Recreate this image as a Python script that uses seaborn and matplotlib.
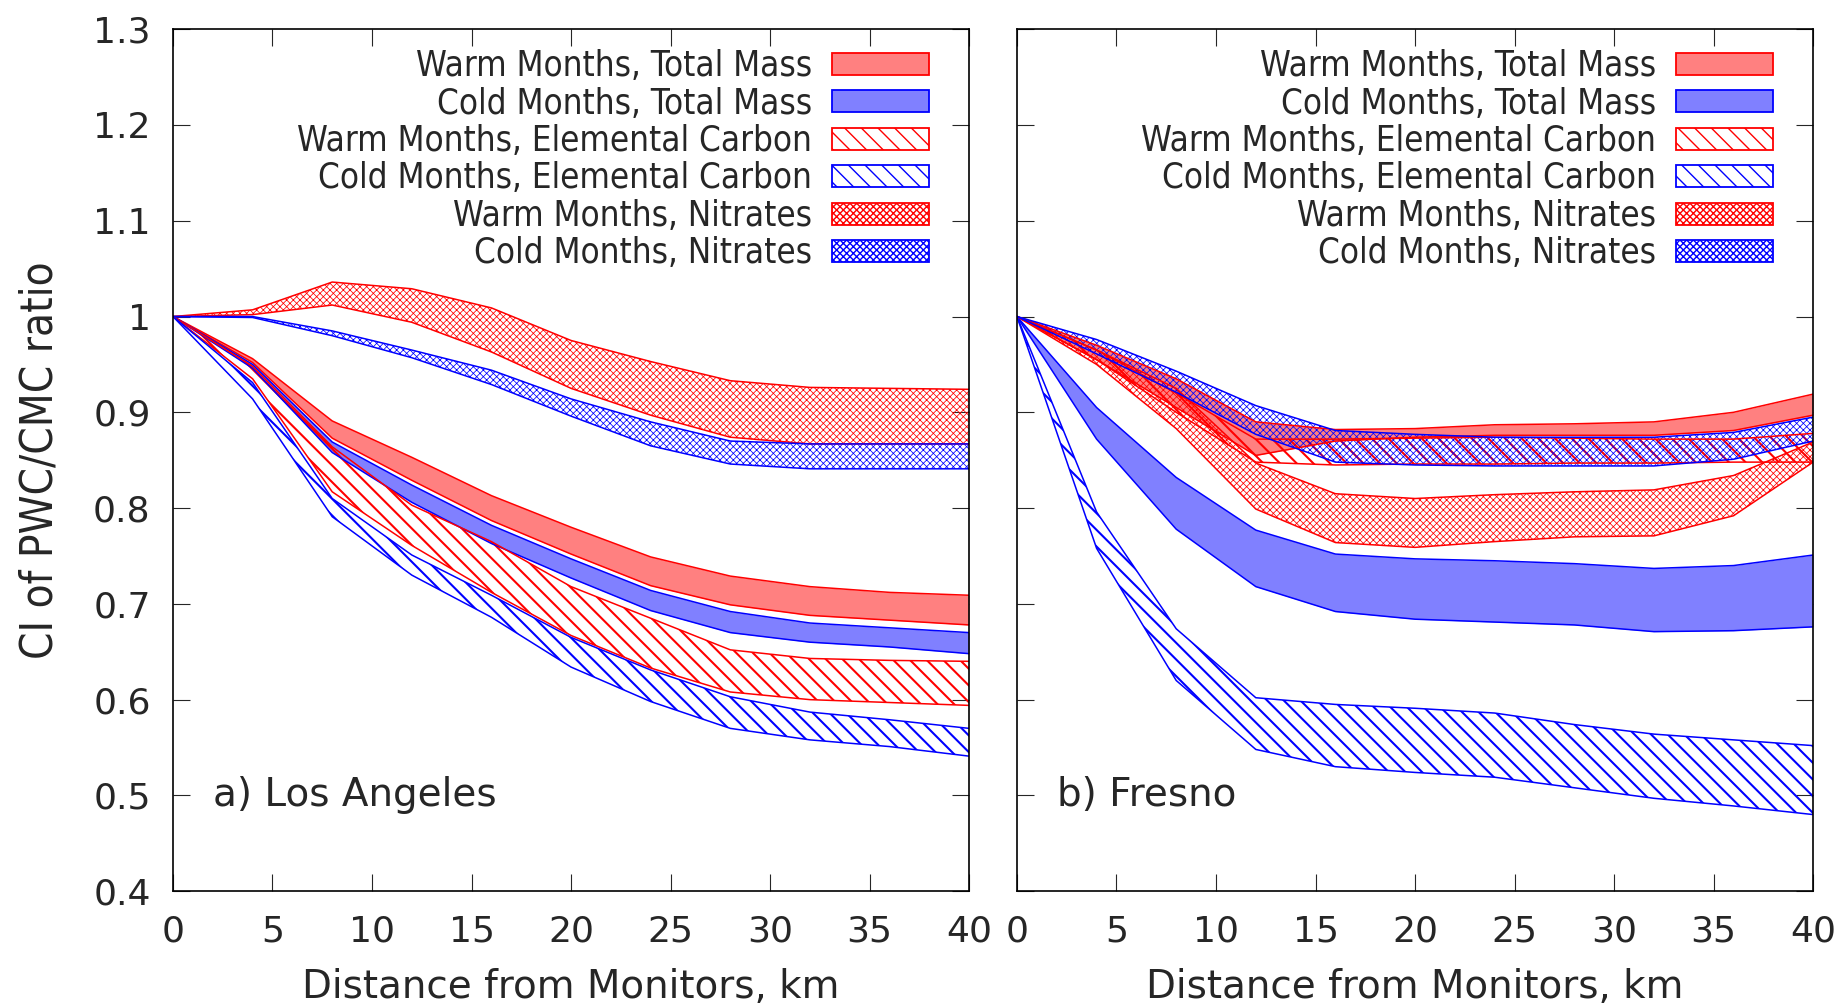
import numpy as np
import pandas as pd
import seaborn as sns
import matplotlib.pyplot as plt
from matplotlib.patches import Patch

# distance from monitors (km), shared by every band
distance_km = [0, 4, 8, 12, 16, 20, 24, 28, 32, 36, 40]

# a) Los Angeles: lower / upper edge of each confidence band
la_warm_mass_lo = [1.0, 0.952, 0.873, 0.829, 0.787, 0.752, 0.719, 0.699, 0.688, 0.683, 0.678]
la_warm_mass_hi = [1.0, 0.956, 0.891, 0.853, 0.813, 0.780, 0.749, 0.729, 0.718, 0.712, 0.709]
la_cold_mass_lo = [1.0, 0.946, 0.858, 0.806, 0.763, 0.727, 0.693, 0.670, 0.660, 0.655, 0.648]
la_cold_mass_hi = [1.0, 0.950, 0.869, 0.824, 0.782, 0.747, 0.714, 0.692, 0.680, 0.675, 0.670]
la_warm_ec_lo = [1.0, 0.935, 0.817, 0.761, 0.712, 0.667, 0.633, 0.608, 0.600, 0.597, 0.594]
la_warm_ec_hi = [1.0, 0.948, 0.864, 0.803, 0.765, 0.718, 0.685, 0.652, 0.643, 0.641, 0.640]
la_cold_ec_lo = [1.0, 0.914, 0.791, 0.730, 0.686, 0.634, 0.598, 0.570, 0.558, 0.551, 0.541]
la_cold_ec_hi = [1.0, 0.931, 0.810, 0.751, 0.709, 0.665, 0.631, 0.603, 0.587, 0.579, 0.570]
la_warm_no3_lo = [1.0, 1.002, 1.012, 0.994, 0.963, 0.925, 0.897, 0.874, 0.867, 0.867, 0.867]
la_warm_no3_hi = [1.0, 1.007, 1.036, 1.029, 1.009, 0.975, 0.953, 0.933, 0.926, 0.925, 0.924]
la_cold_no3_lo = [1.0, 0.999, 0.980, 0.957, 0.929, 0.896, 0.865, 0.846, 0.841, 0.841, 0.841]
la_cold_no3_hi = [1.0, 1.0, 0.985, 0.965, 0.944, 0.914, 0.890, 0.870, 0.867, 0.867, 0.867]

# b) Fresno
fr_warm_mass_lo = [1.0, 0.955, 0.905, 0.855, 0.870, 0.874, 0.876, 0.876, 0.876, 0.881, 0.897]
fr_warm_mass_hi = [1.0, 0.970, 0.935, 0.890, 0.882, 0.883, 0.887, 0.888, 0.890, 0.900, 0.919]
fr_cold_mass_lo = [1.0, 0.872, 0.778, 0.718, 0.692, 0.684, 0.681, 0.678, 0.671, 0.672, 0.676]
fr_cold_mass_hi = [1.0, 0.905, 0.832, 0.777, 0.752, 0.747, 0.745, 0.742, 0.737, 0.740, 0.751]
fr_warm_ec_lo = [1.0, 0.955, 0.900, 0.848, 0.845, 0.846, 0.846, 0.847, 0.847, 0.848, 0.848]
fr_warm_ec_hi = [1.0, 0.965, 0.920, 0.872, 0.872, 0.873, 0.874, 0.873, 0.872, 0.872, 0.878]
fr_cold_ec_lo = [1.0, 0.758, 0.620, 0.548, 0.530, 0.524, 0.519, 0.508, 0.497, 0.489, 0.480]
fr_cold_ec_hi = [1.0, 0.796, 0.674, 0.602, 0.595, 0.591, 0.586, 0.574, 0.564, 0.558, 0.552]
fr_warm_no3_lo = [1.0, 0.950, 0.883, 0.799, 0.764, 0.759, 0.765, 0.770, 0.771, 0.792, 0.848]
fr_warm_no3_hi = [1.0, 0.965, 0.925, 0.847, 0.815, 0.810, 0.814, 0.817, 0.819, 0.834, 0.869]
fr_cold_no3_lo = [1.0, 0.961, 0.921, 0.877, 0.848, 0.845, 0.844, 0.844, 0.844, 0.851, 0.870]
fr_cold_no3_hi = [1.0, 0.976, 0.943, 0.907, 0.881, 0.877, 0.874, 0.874, 0.874, 0.879, 0.895]

series_labels = [
    "Warm Months, Total Mass",
    "Cold Months, Total Mass",
    "Warm Months, Elemental Carbon",
    "Cold Months, Elemental Carbon",
    "Warm Months, Nitrates",
    "Cold Months, Nitrates",
]
panel_titles = ["a) Los Angeles", "b) Fresno"]
x_ticks = [0, 5, 10, 15, 20, 25, 30, 35, 40]
y_ticks = [0.4, 0.5, 0.6, 0.7, 0.8, 0.9, 1.0, 1.1, 1.2, 1.3]
y_ticklabels = ["0.4", "0.5", "0.6", "0.7", "0.8", "0.9", "1", "1.1", "1.2", "1.3"]

RED, BLUE = "#ff0000", "#0000ff"
# edge colour, fill colour, hatch, hatch line width
styles = [
    (RED, "#ff8080", None, 1.0),
    (BLUE, "#8080ff", None, 1.0),
    (RED, "none", "\\\\", 1.5),
    (BLUE, "none", "\\\\", 1.5),
    (RED, "none", "xxxxx", 0.55),
    (BLUE, "none", "xxxxx", 0.55),
]

panels = [
    [(la_warm_mass_lo, la_warm_mass_hi), (la_cold_mass_lo, la_cold_mass_hi),
     (la_warm_ec_lo, la_warm_ec_hi), (la_cold_ec_lo, la_cold_ec_hi),
     (la_warm_no3_lo, la_warm_no3_hi), (la_cold_no3_lo, la_cold_no3_hi)],
    [(fr_warm_mass_lo, fr_warm_mass_hi), (fr_cold_mass_lo, fr_cold_mass_hi),
     (fr_warm_ec_lo, fr_warm_ec_hi), (fr_cold_ec_lo, fr_cold_ec_hi),
     (fr_warm_no3_lo, fr_warm_no3_hi), (fr_cold_no3_lo, fr_cold_no3_hi)],
]

sns.set_style("ticks")
plt.rcParams.update({
    "font.family": ["DejaVu Sans"],
    "xtick.direction": "in",
    "ytick.direction": "in",
    "xtick.top": True,
    "ytick.right": True,
    "xtick.major.size": 12,
    "ytick.major.size": 12,
    "xtick.major.pad": 17,
    "ytick.major.pad": 16,
    "axes.linewidth": 1.2,
    "axes.edgecolor": "black",
})

fig = plt.figure(figsize=(18.46, 10.07), dpi=100)
ax_l = fig.add_axes([0.0937, 0.115, 0.4313, 0.856])
ax_r = fig.add_axes([0.5509, 0.115, 0.4313, 0.856])


def draw_band(ax, lo, hi, edge, face, hatch, hatch_lw):
    n = len(distance_km)
    df = pd.DataFrame({
        "km": distance_km * 2,
        "ci": list(lo) + list(hi),
        "edge": ["lo"] * n + ["hi"] * n,
    })
    sns.lineplot(data=df, x="km", y="ci", units="edge", estimator=None,
                 color=edge, lw=1.1, ax=ax, legend=False)
    with plt.rc_context({"hatch.linewidth": hatch_lw}):
        ax.fill_between(distance_km, lo, hi, facecolor=face, edgecolor=edge,
                        hatch=hatch, lw=0)


for ax, bands, title in zip([ax_l, ax_r], panels, panel_titles):
    for (lo, hi), (edge, face, hatch, hlw) in zip(bands, styles):
        draw_band(ax, lo, hi, edge, face, hatch, hlw)
    ax.set_xlim(0, 40)
    ax.set_ylim(0.4, 1.3)
    ax.set_xticks(x_ticks)
    ax.set_xticklabels([str(t) for t in x_ticks], fontsize=26)
    ax.set_yticks(y_ticks)
    ax.set_xlabel("Distance from Monitors, km", fontsize=28, labelpad=14)
    ax.set_ylabel("")
    ax.text(2, 0.5, title, fontsize=28, va="center", ha="left")

    handles = []
    for edge, face, hatch, hlw in styles:
        with plt.rc_context({"hatch.linewidth": hlw}):
            handles.append(Patch(facecolor=face, edgecolor=edge, hatch=hatch, lw=1.3))
    ax.legend(handles, series_labels, loc="upper right", frameon=False,
              markerfirst=False, handlelength=2.8, handleheight=0.6,
              handletextpad=0.58, labelspacing=0.1, borderpad=0.0,
              borderaxespad=0.0, bbox_to_anchor=(0.9497, 0.977),
              prop={"stretch": "condensed", "size": 25})

ax_l.set_yticklabels(y_ticklabels, fontsize=26)
ax_r.set_yticklabels([])
ax_l.set_ylabel("CI of PWC/CMC ratio", fontsize=31.5, labelpad=23, fontstretch="condensed")

fig.savefig("out.png", dpi=100)
